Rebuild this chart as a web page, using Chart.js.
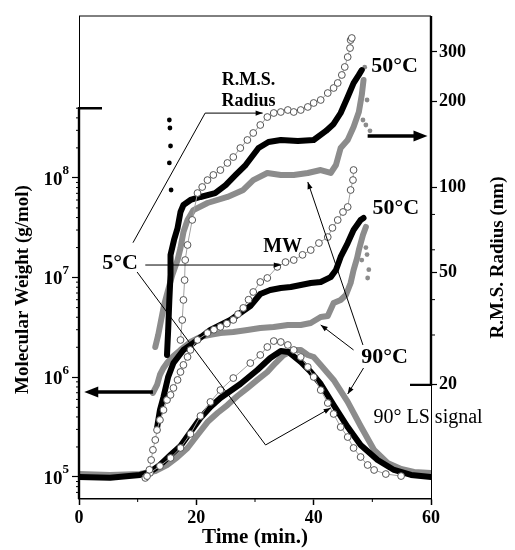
<!DOCTYPE html>
<html>
<head>
<meta charset="utf-8">
<script src="https://cdn.jsdelivr.net/npm/chart.js@4.4.0/dist/chart.umd.min.js"></script>
<style>
  body { margin: 0; background: #fff; }
</style>
</head>
<body>
<canvas id="chart" width="515" height="550"></canvas>
<script>
// time in minutes
const xTicks = [0, 10, 20, 30, 40, 50, 60];
const xLabels = [0, 20, 40, 60];
const mwDecades = [5, 6, 7, 8];
const rTicks = [20, 30, 40, 50, 60, 80, 100, 200, 300];
const rLabels = [20, 50, 100, 200, 300];

// R.M.S. radius (nm), right axis
const rmsT50 = [15.0, 15.2, 15.4, 15.6, 15.6, 16.2, 16.8, 17.3, 17.8, 19.0, 20.7, 23.2, 25.0, 26.7, 28.4, 30.6, 32.3, 34.4, 37.3, 40.0, 42.1, 43.4, 44.6, 45.8, 46.8, 47.7, 48.2];
const rms50 = [25.5, 31.2, 39.9, 48.9, 57.5, 65.0, 71.6, 81.6, 86.4, 90.0, 92.2, 95.2, 101.6, 110.3, 119.6, 137.3, 144.2, 146.6, 145.4, 146.6, 157.8, 167.0, 182.6, 208, 233, 249, 259];
const rmsOutT50 = [15.4, 15.5, 15.6, 15.4, 15.7];
const rmsOut50 = [172.5, 161.6, 139.6, 121.6, 97.6];

const rmsT5 = [17.3, 17.6, 17.8, 18.0, 18.1, 18.5, 19.3, 20.2, 21.0, 21.9, 22.9, 24.1, 25.3, 26.3, 27.5, 28.7, 29.7, 30.9, 32.1, 33.2, 34.4, 35.6, 36.6, 37.8, 39.0, 40.0, 41.2, 42.4, 43.4, 44.1, 44.8, 45.3, 45.8, 46.2, 46.3, 46.5];
const rms5 = [28.8, 33.9, 39.9, 46.9, 55.2, 62.4, 76.5, 95.2, 100, 105.8, 110.3, 114.8, 121.6, 127.6, 137.3, 146.6, 155.2, 165.6, 176.7, 182.6, 184.1, 187.1, 184.1, 187.1, 191.8, 198.1, 203, 214.8, 223.8, 233.1, 248.8, 265.5, 287.9, 309.7, 330.5, 336.1];

const rmsT90 = [13.0, 13.5, 14.0, 14.5, 15.2, 15.9, 16.8, 17.3, 17.8, 18.5, 19.5, 21.9, 25.3, 28.0, 29.7, 32.1, 34.4, 36.6, 39.0, 41.2, 42.9, 43.8, 44.6, 45.8, 46.8, 47.7, 48.2, 48.5];
const rms90 = [27.2, 30.0, 33.9, 38.3, 43.3, 48.9, 55.2, 60.9, 69.3, 76.5, 82.9, 87.8, 92.2, 97.6, 105.8, 112.1, 110.3, 110.3, 112.1, 114.8, 112.1, 119.6, 137.3, 146.6, 162.9, 184.1, 211.3, 238.8];
const rmsOutT90 = [48.4, 48.9, 49.1, 48.7, 49.6];
const rmsOut90 = [172.5, 165.6, 203, 265, 158];

// molecular weight (g/mol), left axis
const mwT50 = [13.3, 13.8, 14.4, 15.2, 16.1, 17.8, 19.5, 22.4, 24.1, 25.8, 27.5, 29.2, 30.9, 32.6, 34.4, 36.1, 37.8, 39.5, 41.2, 42.9, 43.8, 44.6, 45.8, 46.8, 48.0, 48.5];
const mw50 = [3.1e5, 4.7e5, 6.35e5, 1.01e6, 1.39e6, 1.88e6, 2.21e6, 2.98e6, 3.35e6, 3.76e6, 4.42e6, 5.19e6, 6.85e6, 7.51e6, 7.87e6, 8.05e6, 8.43e6, 8.83e6, 9.03e6, 1.01e7, 1.19e7, 1.61e7, 2.22e7, 3.0e7, 3.78e7, 3.96e7];

const mwT5 = [11.6, 12.0, 12.3, 12.6, 13.0, 13.3, 13.8, 14.4, 15.0, 15.6, 16.1, 16.8, 17.3, 17.8, 18.5, 19.0, 20.2, 21.9, 23.0, 24.1, 25.2, 26.3, 27.1, 28.0, 28.9, 29.7, 30.9, 32.1, 33.8, 35.2, 36.6, 38.1, 39.5, 40.9, 42.4, 43.2, 44.1, 45.0, 45.8, 46.3, 46.7, 46.8];
const mw5 = [1.02e5, 1.18e5, 1.48e5, 1.87e5, 2.35e5, 2.96e5, 3.73e5, 4.7e5, 5.92e5, 6.65e5, 7.81e5, 9.4e5, 1.13e6, 1.33e6, 1.6e6, 1.88e6, 2.37e6, 2.78e6, 3.0e6, 3.2e6, 3.45e6, 3.76e6, 4.3e6, 4.96e6, 6.0e6, 7.17e6, 9.03e6, 9.91e6, 1.28e7, 1.43e7, 1.5e7, 1.69e7, 1.89e7, 2.22e7, 2.55e7, 3.15e7, 3.78e7, 4.55e7, 5.11e7, 7.56e7, 9.52e7, 1.2e8];

const mwT90 = [12.6, 13.3, 13.8, 14.4, 15.0, 15.9, 17.3, 19.0, 20.7, 22.4, 24.1, 26.3, 28.7, 30.9, 33.2, 35.6, 37.8, 39.5, 41.2, 42.4, 43.4, 44.6, 45.5, 46.3, 46.8, 47.4, 47.7, 48.4, 48.9];
const mw90 = [6.96e5, 8.37e5, 1.06e6, 1.24e6, 1.39e6, 1.6e6, 1.88e6, 2.26e6, 2.54e6, 2.66e6, 2.78e6, 2.85e6, 2.98e6, 3.12e6, 3.2e6, 3.35e6, 3.35e6, 3.5e6, 4.03e6, 4.12e6, 5.56e6, 5.96e6, 6.69e6, 8.83e6, 1.19e7, 1.57e7, 1.89e7, 2.67e7, 3.22e7];
const mwOutT90 = [48.2, 48.9, 49.4, 49.1, 49.2];
const mwOut90 = [1.5e7, 2.0e7, 1.2e7, 1.7e7, 9.9e6];

// 90 deg light scattering signal, arbitrary units (hidden axis)
const lsT50 = [0, 5.3, 10.4, 12.1, 13.8, 15.6, 17.3, 19.0, 20.7, 22.4, 24.1, 27.5, 30.4, 32.6, 34.4, 35.7, 37.8, 39.5, 41.2, 43.4, 45.8, 48.0, 50.9, 53.7, 56.6, 60];
const ls50 = [0, -0.005, 0.015, 0.037, 0.089, 0.163, 0.23, 0.333, 0.437, 0.519, 0.585, 0.689, 0.793, 0.881, 0.933, 0.926, 0.852, 0.778, 0.689, 0.533, 0.37, 0.237, 0.126, 0.052, 0.015, 0];

const lsT5 = [11.3, 12.1, 13.8, 15.6, 17.3, 19.0, 20.7, 22.4, 24.1, 26.3, 29.2, 30.9, 32.1, 33.2, 34.4, 35.6, 36.6, 37.8, 39.0, 40.0, 41.2, 42.4, 43.4, 44.6, 45.8, 46.8, 48.0, 49.2, 50.3, 52.3, 54.9];
const ls5 = [-0.007, 0.03, 0.081, 0.141, 0.215, 0.319, 0.452, 0.556, 0.644, 0.733, 0.844, 0.904, 0.963, 1.007, 1.0, 0.978, 0.941, 0.889, 0.815, 0.741, 0.644, 0.548, 0.467, 0.37, 0.296, 0.215, 0.148, 0.089, 0.052, 0.022, 0.007];

const lsT90 = [0, 5.3, 10.4, 13.0, 15.0, 16.8, 18.5, 20.2, 21.9, 23.6, 25.3, 27.0, 28.7, 30.4, 32.1, 33.5, 34.9, 36.6, 37.8, 39.0, 40.0, 41.2, 43.4, 45.8, 48.0, 50.3, 52.6, 54.9, 57.1, 60];
const ls90 = [0.022, 0.015, 0.022, 0.044, 0.089, 0.148, 0.215, 0.311, 0.407, 0.474, 0.533, 0.6, 0.659, 0.719, 0.778, 0.844, 0.904, 0.941, 0.941, 0.904, 0.889, 0.83, 0.719, 0.556, 0.378, 0.2, 0.104, 0.059, 0.037, 0.03];

const SERIF = '"Liberation Serif", "Times New Roman", serif';
const GREY = '#8c8c8c';

const pts = (ts, vs) => ts.map((t, i) => ({ x: t, y: vs[i] }));

function openSet(ts, vs, axis) {
  return {
    data: pts(ts, vs), yAxisID: axis, showLine: true,
    borderColor: '#a0a0a0', borderWidth: 1,
    pointRadius: 3.4, pointBackgroundColor: '#fff',
    pointBorderColor: '#555', pointBorderWidth: 1
  };
}
function solidSet(ts, vs, axis, color) {
  return {
    data: pts(ts, vs), yAxisID: axis, showLine: true,
    borderColor: color, borderWidth: 6,
    borderJoinStyle: 'round', borderCapStyle: 'round',
    pointRadius: 2.4, pointBackgroundColor: color, pointBorderWidth: 0
  };
}
function dotSet(ts, vs, axis, color) {
  return {
    data: pts(ts, vs), yAxisID: axis, showLine: false,
    pointRadius: 2.4, pointBackgroundColor: color, pointBorderWidth: 0
  };
}

// first dataset is drawn on top
const datasets = [
  openSet(rmsT5, rms5, 'yR'),
  openSet(mwT5, mw5, 'y'),
  openSet(lsT5, ls5, 'yLS'),
  solidSet(rmsT50, rms50, 'yR', '#000'),
  dotSet(rmsOutT50, rmsOut50, 'yR', '#000'),
  solidSet(mwT50, mw50, 'y', '#000'),
  solidSet(lsT50, ls50, 'yLS', '#000'),
  solidSet(rmsT90, rms90, 'yR', GREY),
  dotSet(rmsOutT90, rmsOut90, 'yR', GREY),
  solidSet(mwT90, mw90, 'y', GREY),
  dotSet(mwOutT90, mwOut90, 'y', GREY),
  solidSet(lsT90, ls90, 'yLS', GREY)
];

function leftTicks() {
  const out = [];
  for (let e = 4; e <= 8; e++) {
    for (let m = 1; m <= 9; m++) {
      const v = m * Math.pow(10, e);
      if (v >= 7e4 && v <= 5.01e8) out.push({ value: v });
    }
  }
  return out;
}
const isDecade = v => Math.abs(Math.log10(v) - Math.round(Math.log10(v))) < 1e-6;

function poly(ctx, list) {
  ctx.beginPath();
  list.forEach(([x, y], i) => (i ? ctx.lineTo(x, y) : ctx.moveTo(x, y)));
  ctx.stroke();
}
function head(ctx, x1, y1, x2, y2, len, w) {
  const a = Math.atan2(y2 - y1, x2 - x1);
  const c = Math.cos(a), s = Math.sin(a);
  ctx.beginPath();
  ctx.moveTo(x2, y2);
  ctx.lineTo(x2 - len * c + w * s, y2 - len * s - w * c);
  ctx.lineTo(x2 - len * c - w * s, y2 - len * s + w * c);
  ctx.closePath();
  ctx.fill();
}

const notes = {
  id: 'notes',
  afterDatasetsDraw(chart) {
    const { ctx, chartArea: a, scales } = chart;
    const X = t => scales.x.getPixelForValue(t);
    const Y = l => scales.y.getPixelForValue(Math.pow(10, l));
    const P = ([t, l]) => [X(t), Y(l)];
    ctx.save();
    ctx.strokeStyle = '#000';
    ctx.fillStyle = '#000';

    // frame pieces
    ctx.lineWidth = 1;
    poly(ctx, [[a.left, a.top], [a.right, a.top]]);
    ctx.lineWidth = 2.4;
    const y5 = scales.y.getPixelForValue(5e8);
    poly(ctx, [[a.left + 23, y5], [a.left, y5], [a.left, a.bottom]]);
    const r20 = scales.yR.getPixelForValue(20);
    poly(ctx, [[a.right, a.top], [a.right, r20], [a.right - 21, r20]]);

    // short minor ticks
    ctx.lineWidth = 1;
    xTicks.filter(v => !xLabels.includes(v)).forEach(v => {
      poly(ctx, [[X(v), a.bottom], [X(v), a.bottom + 3]]);
    });
    leftTicks().filter(t => !isDecade(t.value)).forEach(t => {
      const y = scales.y.getPixelForValue(t.value);
      poly(ctx, [[a.left - 3, y], [a.left, y]]);
    });
    rTicks.filter(v => !rLabels.includes(v)).forEach(v => {
      const y = scales.yR.getPixelForValue(v);
      poly(ctx, [[a.right, y], [a.right + 4, y]]);
    });

    // left tick labels as 10 with raised exponent
    ctx.textBaseline = 'middle';
    mwDecades.forEach(e => {
      const y = scales.y.getPixelForValue(Math.pow(10, e));
      ctx.font = 'bold 13px ' + SERIF;
      ctx.textAlign = 'right';
      const end = a.left - 10;
      const w = ctx.measureText(String(e)).width;
      ctx.fillText(String(e), end, y - 7);
      ctx.font = 'bold 19px ' + SERIF;
      ctx.fillText('10', end - w, y + 2);
    });

    // pointer lines
    const lines = [
      [[9.2, 7.35], [21.5, 8.65], [31.3, 8.65]],
      [[11.3, 7.126], [34.4, 7.126]],
      [[9.9, 7.056], [31.8, 5.321], [42.9, 5.692]],
      [[48.4, 6.324], [39.0, 7.959]],
      [[46.8, 6.274], [41.2, 6.525]],
      [[48.5, 6.093], [45.8, 5.832]]
    ];
    lines.forEach(l => {
      const p = l.map(P);
      poly(ctx, p);
      const n = p.length;
      head(ctx, p[n - 2][0], p[n - 2][1], p[n - 1][0], p[n - 1][1], 7, 2.6);
    });

    // thick axis arrows
    ctx.lineWidth = 3.5;
    const r1 = P([49.2, 8.42]), r2 = P([59.4, 8.42]);
    poly(ctx, [r1, [r2[0] - 8, r2[1]]]);
    head(ctx, r1[0], r1[1], r2[0], r2[1], 14, 5.5);
    const l1 = P([12.6, 5.853]), l2 = P([0.9, 5.853]);
    poly(ctx, [l1, [l2[0] + 8, l2[1]]]);
    head(ctx, l1[0], l1[1], l2[0], l2[1], 14, 5.5);

    // labels
    ctx.textAlign = 'center';
    const labels = [
      ['R.M.S.', 28.9, 8.98, 'bold 18px'],
      ['Radius', 28.9, 8.77, 'bold 18px'],
      ['5\u00B0C', 7.0, 7.14, 'bold 22px'],
      ['MW', 34.7, 7.307, 'bold 20px'],
      ['50\u00B0C', 53.8, 9.122, 'bold 22px'],
      ['50\u00B0C', 54.0, 7.698, 'bold 22px'],
      ['90\u00B0C', 52.1, 6.204, 'bold 22px'],
      ['90\u00B0 LS signal', 59.5, 5.592, '20px']
    ];
    labels.forEach(([txt, t, l, f]) => {
      ctx.font = f + ' ' + SERIF;
      ctx.fillText(txt, X(t), Y(l));
    });

    // axis titles that read bottom to top
    ctx.font = 'bold 19px ' + SERIF;
    ctx.save();
    ctx.translate(23, Y(6.88));
    ctx.rotate(-Math.PI / 2);
    ctx.fillText('Molecular Weight (g/mol)', 0, 0);
    ctx.restore();
    ctx.translate(a.right + 67, (a.top + a.bottom) / 2);
    ctx.rotate(-Math.PI / 2);
    ctx.fillText('R.M.S. Radius (nm)', 0, 0);
    ctx.restore();
  }
};

const tickFont = { family: SERIF, size: 18, weight: 'bold' };
const majorOnly = labels => c => (labels.includes(c.tick.value) ? '#000' : 'rgba(0,0,0,0)');

new Chart(document.getElementById('chart'), {
  type: 'scatter',
  data: { datasets },
  plugins: [notes],
  options: {
    responsive: false,
    animation: false,
    devicePixelRatio: 1,
    layout: { padding: { top: 16, left: 0, right: 0, bottom: 0 } },
    plugins: { legend: { display: false }, tooltip: { enabled: false } },
    elements: { line: { tension: 0 } },
    scales: {
      x: {
        type: 'linear', position: 'bottom', min: 0, max: 60,
        afterBuildTicks: s => { s.ticks = xTicks.map(v => ({ value: v })); },
        afterFit: s => { s.height = 51; },
        ticks: {
          autoSkip: false, maxRotation: 0, padding: 3, color: '#000', font: tickFont,
          callback: v => (xLabels.includes(v) ? String(v) : '')
        },
        grid: { drawOnChartArea: false, tickLength: 6, tickColor: majorOnly(xLabels), tickWidth: 1.5 },
        border: { color: '#000', width: 1.5 },
        title: { display: true, text: 'Time (min.)', color: '#000', font: { family: SERIF, size: 21, weight: 'bold' }, padding: 0 }
      },
      y: {
        type: 'logarithmic', position: 'left', min: 60117, max: 4.207e9,
        afterBuildTicks: s => { s.ticks = leftTicks(); },
        afterFit: s => { s.width = 79; },
        ticks: { autoSkip: false, callback: () => '' },
        grid: {
          drawOnChartArea: false, tickLength: 7, tickWidth: 1.2,
          tickColor: c => (isDecade(c.tick.value) ? '#000' : 'rgba(0,0,0,0)')
        },
        border: { color: '#000', width: 1 }
      },
      yR: {
        type: 'logarithmic', position: 'right', min: 7.9, max: 402,
        afterBuildTicks: s => { s.ticks = rTicks.map(v => ({ value: v })); },
        afterFit: s => { s.width = 84; },
        ticks: {
          autoSkip: false, padding: 2, color: '#000', font: tickFont,
          callback: v => (rLabels.includes(v) ? String(v) : '')
        },
        grid: { drawOnChartArea: false, tickLength: 6, tickColor: majorOnly(rLabels), tickWidth: 1.2 },
        border: { color: '#000', width: 1 }
      },
      yLS: { type: 'linear', display: false, min: -0.163, max: 3.415 }
    }
  }
});
</script>
</body>
</html>
